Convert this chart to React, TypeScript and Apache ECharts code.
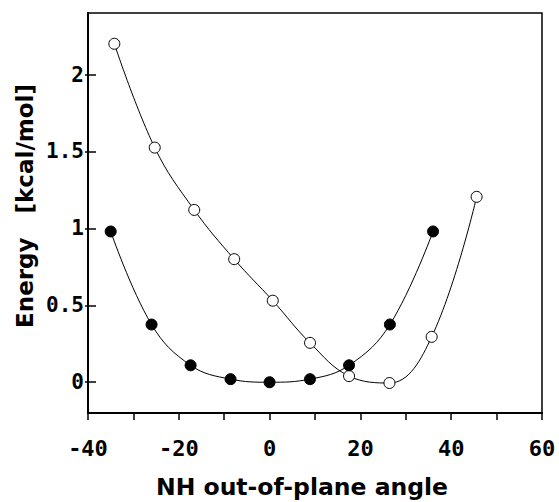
import React, { useEffect, useRef } from "react";
import * as echarts from "echarts";

const filledX = [-35, -26, -17.4, -8.6, 0, 8.9, 17.5, 26.5, 36];
const filledY = [0.98, 0.375, 0.11, 0.02, 0, 0.02, 0.11, 0.375, 0.98];
const openX = [-34.2, -25.3, -16.6, -7.8, 0.7, 8.9, 17.5, 26.4, 35.7, 45.6];
const openY = [2.2, 1.525, 1.12, 0.8, 0.53, 0.256, 0.04, -0.005, 0.295, 1.205];
const xLabelValues = [-40, -20, 0, 20, 40, 60];
const xTickValues = [-40, -30, -20, -10, 0, 10, 20, 30, 40, 50, 60];
const yTickValues = [0, 0.5, 1, 1.5, 2];
const xTitle = "NH out-of-plane angle";
const yTitle = "Energy   [kcal/mol]";

const monoFont = "'DejaVu Sans Mono', monospace";
const sansFont = "'DejaVu Sans', sans-serif";

export default function App() {
  const ref = useRef<HTMLDivElement>(null);
  useEffect(() => {
    if (!ref.current) return;
    const chart = echarts.init(ref.current, undefined, { renderer: "svg" });
    const zip = (xs: number[], ys: number[]) => xs.map((x, i) => [x, ys[i]]);
    chart.setOption({
      animation: false,
      backgroundColor: "#ffffff",
      grid: {
        left: 88,
        right: 17,
        top: 13,
        bottom: 89,
        show: true,
        borderColor: "#000",
        borderWidth: 1.5,
        backgroundColor: "transparent",
      },
      xAxis: {
        type: "value",
        min: -40,
        max: 60,
        interval: 10,
        axisLine: { show: true, onZero: false, lineStyle: { color: "#000", width: 2 } },
        axisTick: {
          show: true,
          inside: false,
          length: 7,
          customValues: xTickValues,
          lineStyle: { color: "#000", width: 1.5 },
        },
        axisLabel: {
          customValues: xLabelValues,
          margin: 24,
          color: "#000",
          fontFamily: monoFont,
          fontWeight: "bold",
          fontSize: 22,
          formatter: (v: number) => String(v),
        },
        splitLine: { show: false },
      },
      yAxis: [
        {
          type: "value",
          min: -0.2,
          max: 2.4,
          axisLine: { show: true, onZero: false, lineStyle: { color: "#000", width: 2 } },
          axisTick: {
            show: true,
            inside: true,
            length: 8,
            customValues: yTickValues,
            lineStyle: { color: "#000", width: 1.5 },
          },
          axisLabel: {
            customValues: yTickValues,
            margin: 4,
            color: "#000",
            fontFamily: monoFont,
            fontWeight: "bold",
            fontSize: 21,
            formatter: (v: number) => String(v),
          },
          splitLine: { show: false },
        },
        {
          type: "value",
          position: "left",
          offset: 0,
          min: -0.2,
          max: 2.4,
          axisLine: { show: false, onZero: false },
          axisTick: {
            show: true,
            inside: false,
            length: 3,
            customValues: yTickValues,
            lineStyle: { color: "#000", width: 1.5 },
          },
          axisLabel: { show: false },
          splitLine: { show: false },
        },
      ],
      graphic: [
        {
          type: "text",
          x: 302,
          y: 487,
          style: {
            text: xTitle,
            fill: "#000",
            font: `bold 23.5px ${sansFont}`,
            textAlign: "center",
            textVerticalAlign: "middle",
          },
        },
        {
          type: "text",
          x: 25,
          y: 206,
          rotation: Math.PI / 2,
          style: {
            text: yTitle,
            fill: "#000",
            font: `bold 23px ${sansFont}`,
            textAlign: "center",
            textVerticalAlign: "middle",
          },
        },
      ],
      series: [
        {
          type: "line",
          data: zip(openX, openY),
          smooth: 0.4,
          symbol: "circle",
          symbolSize: 11,
          lineStyle: { color: "#000", width: 1 },
          itemStyle: { color: "#fff", borderColor: "#000", borderWidth: 1 },
          z: 3,
        },
        {
          type: "line",
          data: zip(filledX, filledY),
          smooth: 0.4,
          symbol: "circle",
          symbolSize: 11,
          lineStyle: { color: "#000", width: 1 },
          itemStyle: { color: "#000", borderColor: "#000", borderWidth: 1 },
          z: 4,
        },
      ],
    });
    return () => chart.dispose();
  }, []);
  return <div ref={ref} style={{ width: 559, height: 502, position: "absolute", left: 0, top: 0 }} />;
}
